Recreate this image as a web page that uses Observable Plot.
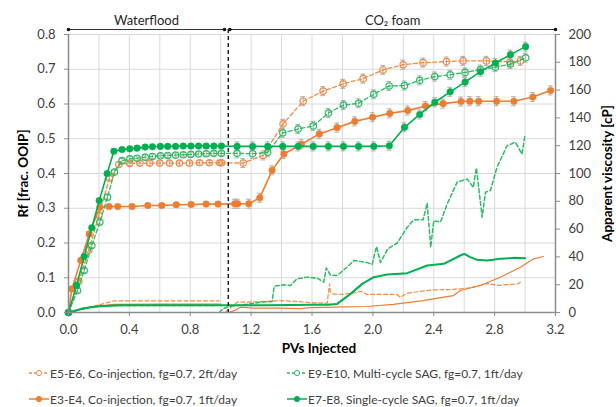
<!DOCTYPE html>
<html><head><meta charset="utf-8">
<script src="https://cdn.jsdelivr.net/npm/d3@7"></script>
<script src="https://cdn.jsdelivr.net/npm/@observablehq/plot@0.6"></script>
<style>
body{margin:0;background:#fff;font-family:Lato,sans-serif}
#chart{position:relative;width:616px;height:407px}
#legend{position:relative;width:616px;height:47px}
.leg{position:absolute;display:flex;align-items:center;font-size:12px;color:#404040;white-space:nowrap;height:14px}
.leg svg{margin-right:1px}
</style></head><body><div id="chart"></div>
<script>
// ---- Recovery factor data (PV injected, Rf) ----
const e56_pv = [0,0.068,0.134,0.2,0.269,0.331,0.403,0.469,0.534,0.6,0.664,0.729,0.795,0.861,0.926,0.994,1.007,1.148,1.279,1.41,1.542,1.673,1.805,1.936,2.067,2.199,2.33,2.484,2.593,2.746,2.9,2.97];
const e56_rf = [0,0.09,0.18,0.28,0.387,0.426,0.429,0.43,0.43,0.43,0.43,0.43,0.43,0.431,0.431,0.431,0.431,0.43,0.452,0.543,0.608,0.637,0.658,0.673,0.698,0.713,0.719,0.722,0.724,0.724,0.721,0.724];

const e34_pv = [0,0.022,0.081,0.136,0.206,0.267,0.324,0.418,0.521,0.613,0.708,0.806,0.905,0.983,1.092,1.112,1.185,1.257,1.338,1.415,1.531,1.648,1.765,1.881,1.998,2.111,2.229,2.346,2.462,2.579,2.637,2.695,2.813,2.927,3.051,3.168];
const e34_rf = [0,0.068,0.15,0.226,0.303,0.305,0.305,0.305,0.308,0.308,0.31,0.311,0.312,0.312,0.313,0.313,0.313,0.33,0.409,0.456,0.484,0.514,0.532,0.55,0.562,0.573,0.581,0.594,0.601,0.607,0.608,0.608,0.608,0.608,0.62,0.639];

const e910_pv = [0,0.059,0.103,0.153,0.206,0.256,0.302,0.352,0.403,0.451,0.504,0.552,0.604,0.652,0.704,0.754,0.804,0.855,0.905,0.955,1.005,1.108,1.21,1.309,1.408,1.509,1.608,1.708,1.807,1.906,2.006,2.107,2.208,2.308,2.407,2.508,2.606,2.707,2.805,2.904,3.004];
const e910_rf = [0,0.063,0.121,0.193,0.26,0.332,0.404,0.437,0.442,0.444,0.447,0.449,0.451,0.452,0.453,0.454,0.455,0.456,0.457,0.458,0.458,0.458,0.457,0.461,0.517,0.528,0.537,0.574,0.597,0.602,0.628,0.652,0.653,0.668,0.679,0.684,0.691,0.699,0.706,0.715,0.733];

const e78_pv = [0,0.053,0.103,0.153,0.202,0.254,0.298,0.352,0.403,0.451,0.504,0.552,0.604,0.652,0.704,0.754,0.804,0.855,0.905,0.955,1.005,1.108,1.21,1.309,1.408,1.509,1.608,1.708,1.807,1.906,2.006,2.108,2.208,2.308,2.407,2.508,2.606,2.707,2.805,2.904,3.004];
const e78_rf = [0,0.078,0.161,0.244,0.322,0.40,0.464,0.469,0.471,0.473,0.476,0.477,0.478,0.478,0.478,0.479,0.479,0.479,0.479,0.479,0.479,0.478,0.478,0.478,0.478,0.478,0.478,0.478,0.478,0.478,0.478,0.48,0.533,0.57,0.605,0.635,0.663,0.693,0.718,0.742,0.765];

// half-height of the grey error bars (waterflood points / CO2-foam points)
const rfErrorWaterflood = 0.006;
const rfErrorFoam = 0.013;

// ---- Apparent viscosity data (PV injected, cP); null = break ----
const e56_vis_pv = [0,0.1,0.2,0.3,0.6,0.99,null,1.03,1.07,1.11,1.2,1.3,1.4,1.5,1.6,1.7,1.715,1.72,1.735,1.8,1.87,1.92,1.96,2.05,2.157,2.18,2.226,2.3,2.4,2.5,2.575,2.65,2.706,2.75,2.82,2.882,2.95,2.97];
const e56_vis_cp = [0,2.5,5.5,8.4,8.4,8.4,null,0,4,7.5,7.5,8,8.5,8,7,6.7,20.6,15,13.4,13,14,15.3,13,13,13,11,13.9,15,16.3,16.5,17,18,19.4,21,19.5,20,20.5,21.8];

const e34_vis_pv = [0,0.15,0.3,0.6,1.0,null,1.05,1.09,1.13,1.22,1.37,1.524,1.59,1.744,1.96,2.135,2.33,2.466,2.53,2.575,2.706,2.838,2.97,3.056,3.12];
const e34_vis_cp = [0,4,5.8,6,6,null,0,1.4,3.8,3.1,3.1,2.8,3.5,3.8,4.3,5.8,8.6,11,12.2,15.8,19.4,25.4,32.6,38.6,40.3];

const e910_vis_pv = [0,0.15,0.3,0.6,0.98,null,0.99,1.02,1.064,1.152,1.26,1.338,1.345,1.353,1.415,1.459,1.5,1.568,1.634,1.677,1.689,1.694,1.72,1.765,1.83,1.875,1.962,1.995,2.024,2.05,2.098,2.16,2.226,2.27,2.33,2.357,2.38,2.4,2.444,2.488,2.554,2.62,2.66,2.68,2.718,2.74,2.772,2.816,2.882,2.936,2.98,3.0];
const e910_vis_cp = [0,4,5,5,5,null,0,3,4.5,5.5,7.4,7.9,14,18.9,19.9,19.4,24.2,25.4,24.7,21.8,29,32,27,26.6,32.6,37.4,36,34.5,47.5,36,45.8,50,61.4,66.7,66.7,78.7,47,66,65,78,93.8,96,90,104,68.6,86.6,87.8,104.6,120,122.5,114,128];

const e78_vis_pv = [0,0.1,0.2,0.35,0.7,1.0,1.3,1.6,1.699,1.765,1.853,1.93,2.006,2.094,2.226,2.357,2.42,2.466,2.575,2.6,2.64,2.685,2.75,2.838,2.925,3.0];
const e78_vis_cp = [0,3,4.5,5.3,5.3,5.3,5.3,5.5,5.5,6.2,13.4,20.6,25.4,27.3,28.3,33.8,34.5,35,41,42.2,39.8,37.9,37.4,38.6,39.3,39];

// ---- Axes / annotations ----
const xTicks = [0,0.4,0.8,1.2,1.6,2.0,2.4,2.8,3.2];
const xGrid = [0.2,0.4,0.6,0.8,1.0,1.2,1.4,1.6,1.8,2.0,2.2,2.4,2.6,2.8,3.0];
const yTicks = [0,0.1,0.2,0.3,0.4,0.5,0.6,0.7,0.8];
const cpTicks = [0,20,40,60,80,100,120,140,160,180,200];
const phases = [{name:"Waterflood", start:0, end:1.025}, {name:"CO₂ foam", start:1.06, end:3.2}];
const switchPV = 1.05;

const rfMax = 0.8, cpMax = 200, k = rfMax / cpMax;

const series = [
  {label:"E5-E6, Co-injection, fg=0.7, 2ft/day", color:"#F08C48", open:true, dash:"4,2.5", pv:e56_pv, rf:e56_rf, vpv:e56_vis_pv, vcp:e56_vis_cp, vw:1.2, vdash:"4,2.5"},
  {label:"E3-E4, Co-injection, fg=0.7, 1ft/day", color:"#ED7D31", open:false, dash:null, pv:e34_pv, rf:e34_rf, vpv:e34_vis_pv, vcp:e34_vis_cp, vw:1.2, vdash:null},
  {label:"E9-E10, Multi-cycle SAG, fg=0.7, 1ft/day", color:"#2CBA62", open:true, dash:"4,2.5", pv:e910_pv, rf:e910_rf, vpv:e910_vis_pv, vcp:e910_vis_cp, vw:1.5, vdash:"4,2.5"},
  {label:"E7-E8, Single-cycle SAG, fg=0.7, 1ft/day", color:"#00B050", open:false, dash:null, pv:e78_pv, rf:e78_rf, vpv:e78_vis_pv, vcp:e78_vis_cp, vw:2, vdash:null}
];

const marks = [
  Plot.ruleX(xGrid, {stroke:"#d9d9d9", strokeWidth:1}),
  Plot.ruleY(yTicks.slice(1), {stroke:"#d9d9d9", strokeWidth:1}),
];

// viscosity lines
for (const s of series) {
  const rows = s.vpv.map((x,i) => ({pv: x == null ? NaN : x, cp: s.vcp[i] == null ? NaN : s.vcp[i]}));
  marks.push(Plot.line(rows, {x:"pv", y: d => d.cp * k, stroke:s.color, strokeWidth:s.vw, strokeDasharray:s.vdash || undefined, curve:"linear"}));
}
// error bars
for (const s of series) {
  const rows = s.pv.map((x,i) => ({pv:x, rf:s.rf[i], e: x < switchPV ? rfErrorWaterflood : rfErrorFoam})).filter(d => d.pv > 0);
  marks.push(Plot.ruleX(rows, {x:"pv", y1: d => d.rf - d.e, y2: d => d.rf + d.e, stroke:"#b0b0b0", strokeWidth:1}));
  marks.push(Plot.ruleY(rows, {y: d => d.rf + d.e, x1: d => d.pv - 0.016, x2: d => d.pv + 0.016, stroke:"#b0b0b0", strokeWidth:1}));
  marks.push(Plot.ruleY(rows, {y: d => d.rf - d.e, x1: d => d.pv - 0.016, x2: d => d.pv + 0.016, stroke:"#b0b0b0", strokeWidth:1}));
}
// Rf lines + markers
for (const s of series) {
  const rows = s.pv.map((x,i) => ({pv:x, rf:s.rf[i]}));
  marks.push(Plot.line(rows, {x:"pv", y:"rf", stroke:s.color, strokeWidth: s.open ? 1.3 : 1.6, strokeDasharray: s.dash || undefined}));
  marks.push(Plot.dot(rows, s.open
    ? {x:"pv", y:"rf", r:3.2, stroke:s.color, strokeWidth:1.2, fill:"none"}
    : {x:"pv", y:"rf", r:3.3, fill:s.color, stroke:s.color, strokeWidth:0.5}));
}

// axis lines
marks.push(Plot.ruleY([0], {stroke:"#8c8c8c", strokeWidth:1.5}));
marks.push(Plot.ruleX([0], {stroke:"#8c8c8c", strokeWidth:1.5}));
marks.push(Plot.ruleX([3.2], {stroke:"#8c8c8c", strokeWidth:1.5}));

// phase switch + phase annotations
marks.push(Plot.ruleX([switchPV], {stroke:"#222", strokeWidth:1.5, strokeDasharray:"4,3", insetTop:-5}));
marks.push(Plot.ruleY(phases, {y: rfMax, x1:"start", x2:"end", dy:-5, stroke:"#333", strokeWidth:1}));
const ends = phases.flatMap(p => [p.start, p.end]);
marks.push(Plot.dot(ends, {x: d => d, y: rfMax, dy:-5, r:1.8, fill:"#111", stroke:null}));
marks.push(Plot.text(phases, {x: d => (d.start + d.end) / 2, y: rfMax, dy:-14, text:"name", fontSize:13, fill:"#262626"}));

// axes
marks.push(Plot.axisX({ticks:xTicks, tickFormat:d3.format(".1f"), tickSize:4, tickPadding:8, label:null, stroke:"#8c8c8c"}));
marks.push(Plot.axisY({ticks:yTicks, tickFormat:d3.format(".1f"), tickSize:4, tickPadding:9, label:null, anchor:"left", stroke:"#8c8c8c"}));
marks.push(Plot.axisY({ticks:cpTicks.map(v => v * k), tickFormat: d => String(Math.round(d / k)), tickSize:4, tickPadding:9, label:null, anchor:"right", stroke:"#8c8c8c"}));

// axis titles
marks.push(Plot.text(["PVs Injected"], {text: d => d, frameAnchor:"bottom", dy:40, dx:7, fontWeight:"bold", fontSize:13.5, fill:"#000"}));
marks.push(Plot.text(["Rf [frac. OOIP]"], {text: d => d, frameAnchor:"left", rotate:-90, dx:-45, textAnchor:"middle", fontWeight:"bold", fontSize:13.5, fill:"#000"}));
marks.push(Plot.text(["Apparent viscosity [cP]"], {text: d => d, frameAnchor:"right", rotate:-90, dx:52, textAnchor:"middle", fontWeight:"bold", fontSize:13.5, fill:"#000"}));

const chart = Plot.plot({
  width:616, height:360,
  marginLeft:68, marginRight:61, marginTop:34, marginBottom:48,
  x:{domain:[0,3.2]},
  y:{domain:[0,rfMax]},
  style:{fontFamily:"Lato, sans-serif", fontSize:"13px", color:"#404040", background:"white", overflow:"visible"},
  marks
});
const root = document.getElementById("chart");
root.appendChild(chart);

// legend (below the SVG)
const legend = document.createElement("div");
legend.id = "legend";
root.appendChild(legend);
const pos = [{l:29, t:6}, {l:29, t:32}, {l:287, t:6}, {l:287, t:32}];
series.forEach((s, i) => {
  const el = document.createElement("div");
  el.className = "leg";
  el.style.left = pos[i].l + "px";
  el.style.top = pos[i].t + "px";
  const dash = s.dash ? `stroke-dasharray="3,2"` : "";
  const fill = s.open ? "white" : s.color;
  el.innerHTML = `<svg width="20" height="10"><line x1="0" y1="5" x2="20" y2="5" stroke="${s.color}" stroke-width="1.5" ${dash}/><circle cx="10" cy="5" r="2.6" fill="${fill}" stroke="${s.color}" stroke-width="1"/></svg><span>${s.label}</span>`;
  legend.appendChild(el);
});
</script></body></html>
